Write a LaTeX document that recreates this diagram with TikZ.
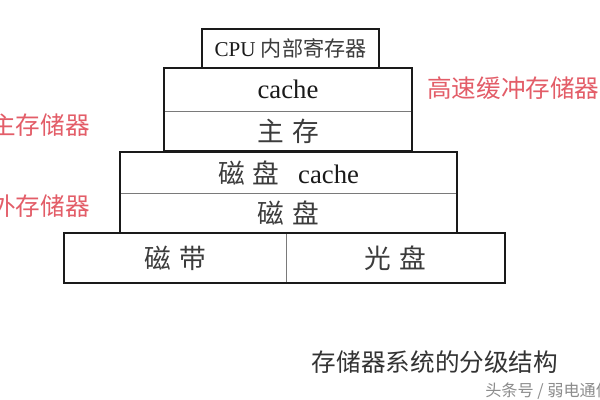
\documentclass[tikz,border=0pt]{standalone}
\usepackage{fontspec}
\usepackage{xcolor}
\usepackage{tikz}
\setmainfont{Liberation Serif}
\newfontfamily\cjk{Noto Sans CJK SC}
\definecolor{ink}{HTML}{1A1A1A}
\definecolor{hanzi}{HTML}{3C3C3C}
\definecolor{rule}{HTML}{7A7A7A}
\definecolor{redlab}{HTML}{E35D68}
\definecolor{capgray}{HTML}{333333}
\definecolor{wmark}{HTML}{8C8C8C}
\newcommand{\hz}[1]{{\cjk\color{hanzi}#1}}
\newcommand{\gap}{\hspace{0.3em}}
\def\pxu{0.025cm}
\tikzset{
  cell/.style={draw=rule, line width=0.6pt, inner sep=0pt, outer sep=0pt,
    text=ink, font=\fontsize{19}{21}\selectfont},
  frame/.style={draw=ink, line width=1.2pt, line join=miter},
  lab/.style={text=redlab, inner sep=0pt, font=\cjk\fontsize{17.5}{19}\selectfont},
  captext/.style={text=capgray, inner sep=0pt, font=\cjk\fontsize{17.5}{19}\selectfont},
  srcmark/.style={text=wmark, inner sep=0pt, font=\cjk\fontsize{11.5}{13}\selectfont},
}

\begin{document}
\begin{tikzpicture}[x=0.025cm, y=-0.025cm]
  \clip (0,0) rectangle (600,400);
  \fill[white] (0,0) rectangle (600,400);

  \node[cell, minimum width=177*\pxu, minimum height=39*\pxu,
    font=\fontsize{15}{17}\selectfont] (cpu) at (290.5,48.5) {CPU \hz{内部寄存器}};

  \node[cell, minimum width=248*\pxu, minimum height=43*\pxu] (cache) at (288,89.5) {cache};
  \node[cell, minimum width=248*\pxu, minimum height=40*\pxu] (zhucun) at (288,131) {\hz{主\gap 存}};

  \node[cell, minimum width=337*\pxu, minimum height=41*\pxu] (dpcache) at (288.5,172.5) {\hz{磁\gap 盘}\hspace{0.7em}cache};
  \node[cell, minimum width=337*\pxu, minimum height=40*\pxu] (cipan) at (288.5,213) {\hz{磁\gap 盘}};

  \node[cell, minimum width=222*\pxu, minimum height=50*\pxu] (cidai) at (175,258) {\hz{磁\gap 带}};
  \node[cell, minimum width=219*\pxu, minimum height=50*\pxu] (guangpan) at (395.5,258) {\hz{光\gap 盘}};

  \draw[frame] (cpu.north west) rectangle (cpu.south east);
  \draw[frame] (cache.north west) rectangle (zhucun.south east);
  \draw[frame] (dpcache.north west) rectangle (cipan.south east);
  \draw[frame] (cidai.north west) rectangle (guangpan.south east);

  \node[lab, anchor=west] (gaosu) at (427,88) {高速缓冲存储器};
  \node[lab, anchor=east] (zhuchu) at (90,125) {主存储器};
  \node[lab, anchor=east] (waichu) at (90,206) {外存储器};

  \node[captext] (title) at (435,362) {存储器系统的分级结构};
  \node[srcmark, anchor=west] (source) at (485,391) {头条号 / 弱电通信};
\end{tikzpicture}
\end{document}
